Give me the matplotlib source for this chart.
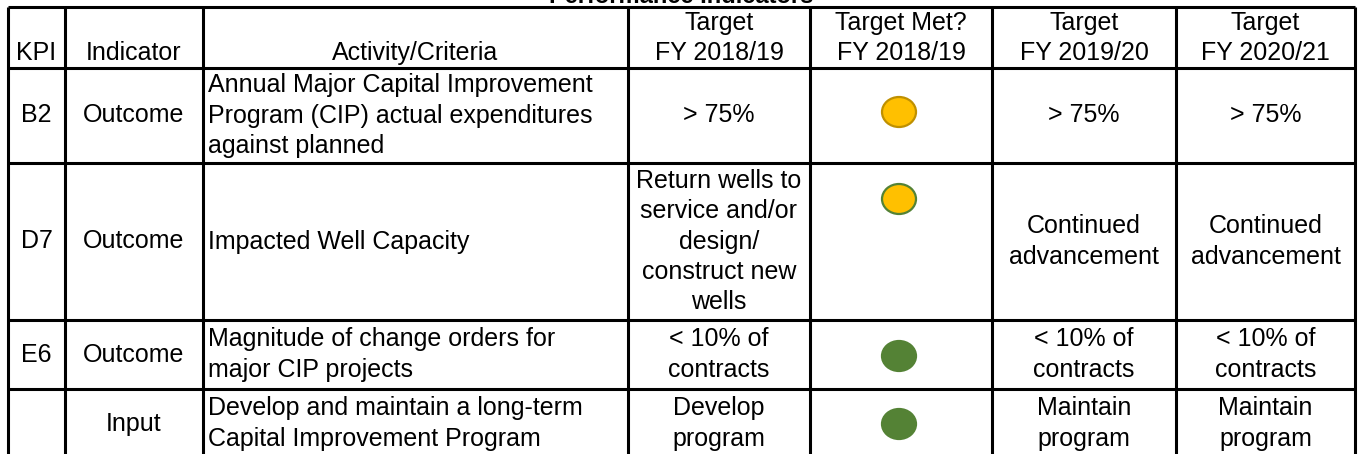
import matplotlib
matplotlib.use("Agg")
import matplotlib.pyplot as plt
from matplotlib.patches import Ellipse

plt.rcParams["font.family"] = ["Liberation Sans", "DejaVu Sans"]

# ---- table content ----
title = "Performance Indicators"
headers = ["KPI", "Indicator", "Activity/Criteria",
           "Target\nFY 2018/19", "Target Met?\nFY 2018/19",
           "Target\nFY 2019/20", "Target\nFY 2020/21"]
kpis = ["B2", "D7", "E6", ""]
indicators = ["Outcome", "Outcome", "Outcome", "Input"]
activities = [
    "Annual Major Capital Improvement\nProgram (CIP) actual expenditures\nagainst planned",
    "Impacted Well Capacity",
    "Magnitude of change orders for\nmajor CIP projects",
    "Develop and maintain a long-term\nCapital Improvement Program",
]
target_1819 = ["> 75%",
               "Return wells to\nservice and/or\ndesign/\nconstruct new\nwells",
               "< 10% of\ncontracts",
               "Develop\nprogram"]
target_met = ["partial", "partial", "met", "met"]
target_1920 = ["> 75%", "Continued\nadvancement", "< 10% of\ncontracts", "Maintain\nprogram"]
target_2021 = ["> 75%", "Continued\nadvancement", "< 10% of\ncontracts", "Maintain\nprogram"]

# ---- layout (pixel units) ----
W, H = 1359, 454
col_edges = [8, 65, 203, 628, 810, 992, 1176, 1355]
row_edges = [7, 68, 163, 320, 389, 472]
circle_dy = [44, 36, 36, 35]
status_style = {
    "partial": ("#FFC000", "#BF9000"),
    "met": ("#548235", "#548235"),
}
edge_override = {1: "#548235"}  # D7 circle has a green rim

FS = 18
LS = 1.32
LW = 2.2

fig = plt.figure(figsize=(W / 100, H / 100), dpi=100)
ax = fig.add_axes([0, 0, 1, 1])
ax.set_xlim(0, W)
ax.set_ylim(H, 0)
ax.axis("off")

# grid lines
ax.hlines(row_edges, col_edges[0], col_edges[-1], colors="black", linewidth=LW)
ax.vlines(col_edges, row_edges[0], row_edges[-1], colors="black", linewidth=LW)

# title (mostly clipped above the figure like the source)
ax.text((col_edges[0] + col_edges[-1]) / 2, 3, title, ha="center", va="baseline",
        fontsize=FS - 1, fontweight="bold")

# header, bottom aligned
for i, h in enumerate(headers):
    cx = (col_edges[i] + col_edges[i + 1]) / 2
    ax.text(cx, row_edges[1] - 3, h, ha="center", va="bottom",
            fontsize=FS, linespacing=LS)

# body
columns = [kpis, indicators, activities, target_1819, None, target_1920, target_2021]
for r in range(len(kpis)):
    top, bot = row_edges[r + 1], row_edges[r + 2]
    cy = (top + min(bot, H + 4)) / 2 if r == len(kpis) - 1 else (top + bot) / 2
    for c, vals in enumerate(columns):
        if vals is None:
            continue
        if c == 2:
            ax.text(col_edges[c] + 5, cy, vals[r], ha="left", va="center",
                    fontsize=FS, linespacing=LS)
        else:
            cx = (col_edges[c] + col_edges[c + 1]) / 2
            ax.text(cx, cy, vals[r], ha="center", va="center",
                    fontsize=FS, linespacing=LS)
    fill, edge = status_style[target_met[r]]
    edge = edge_override.get(r, edge)
    cx = (col_edges[4] + col_edges[5]) / 2 - 2
    ax.add_patch(Ellipse((cx, top + circle_dy[r]), 34, 30,
                         facecolor=fill, edgecolor=edge, linewidth=1.6))

fig.savefig("out.png", dpi=100)
